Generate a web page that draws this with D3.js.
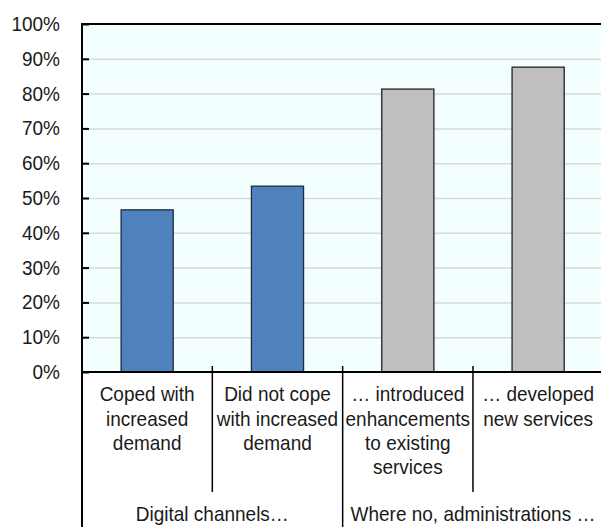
<!DOCTYPE html>
<html>
<head>
<meta charset="utf-8">
<script src="https://cdn.jsdelivr.net/npm/d3@7"></script>
<style>
  html, body { margin: 0; padding: 0; background: #ffffff; }
  svg { display: block; }
  text { font-family: "Liberation Sans", Arial, sans-serif; font-size: 19px; fill: #1a1a1a; }
</style>
</head>
<body>
<svg id="chart" width="601" height="527"></svg>
<script>
// Share of administrations, by digital-channel outcome
const categories = [
  "Coped with increased demand",
  "Did not cope with increased demand",
  "… introduced enhancements to existing services",
  "… developed new services"
];
const categoryLines = [
  ["Coped with", "increased", "demand"],
  ["Did not cope", "with increased", "demand"],
  ["… introduced", "enhancements", "to existing", "services"],
  ["… developed", "new services"]
];
const groups = ["Digital channels…", "Where no, administrations …"];
const groupOf = [0, 0, 1, 1];
const values = [0.466, 0.534, 0.813, 0.876];
const yTicks = [0, 0.1, 0.2, 0.3, 0.4, 0.5, 0.6, 0.7, 0.8, 0.9, 1.0];
const groupFill = ["#4f81bd", "#bfbfbf"];
const groupStroke = ["#1e2c3c", "#222222"];

const svg = d3.select("#chart");
const plot = { left: 82, right: 603.3, top: 24, bottom: 372 };
const lineGap = 24.5;
const textStretch = 1.1; // glyphs are drawn slightly taller than wide

// stretch a text element vertically about its baseline
function stretchAt(sel, xf, yf) {
  sel.attr("transform", (d, i) => {
    const yb = yf(d, i);
    return `translate(0,${yb}) scale(1,${textStretch}) translate(0,${-yb})`;
  });
}

const x = d3.scaleBand()
  .domain(categories)
  .range([plot.left, plot.right])
  .paddingInner(0.6)
  .paddingOuter(0.3);

const y = d3.scaleLinear().domain([0, 1]).range([plot.bottom, plot.top]);

// plot background
svg.append("rect")
  .attr("x", plot.left).attr("y", plot.top)
  .attr("width", plot.right - plot.left).attr("height", plot.bottom - plot.top)
  .attr("fill", "#f3ffff");

// horizontal gridlines
const grid = svg.append("g")
  .attr("transform", `translate(${plot.left},0)`)
  .call(d3.axisLeft(y).tickValues(yTicks.slice(1, -1)).tickSize(-(plot.right - plot.left)).tickFormat(""));
grid.select(".domain").remove();
grid.selectAll("line").attr("stroke", "#d9d9d9").attr("stroke-width", 1.5);

// bars
svg.append("g").selectAll("rect")
  .data(categories)
  .join("rect")
  .attr("x", d => x(d))
  .attr("y", (d, i) => y(values[i]))
  .attr("width", x.bandwidth())
  .attr("height", (d, i) => y(0) - y(values[i]))
  .attr("fill", (d, i) => groupFill[groupOf[i]])
  .attr("stroke", (d, i) => groupStroke[groupOf[i]])
  .attr("stroke-width", 1.3);

// y axis: inward ticks only, labels drawn separately
const yAxis = svg.append("g")
  .attr("transform", `translate(${plot.left},0)`)
  .call(d3.axisLeft(y).tickValues(yTicks).tickSize(-7).tickFormat(""));
yAxis.select(".domain").remove();
yAxis.selectAll(".tick line").attr("stroke", "#000").attr("stroke-width", 2);

const fmt = d3.format(".0%");
svg.append("g").selectAll("text")
  .data(yTicks)
  .join("text")
  .attr("text-anchor", "end")
  .attr("x", 60)
  .attr("y", d => y(d) + 7)
  .text(d => fmt(d))
  .call(stretchAt, null, d => y(d) + 7);

// frame: top border, left axis (runs down through the category area), baseline
svg.append("line")
  .attr("x1", plot.left - 1).attr("x2", plot.right)
  .attr("y1", plot.top).attr("y2", plot.top)
  .attr("stroke", "#000").attr("stroke-width", 2);
svg.append("line")
  .attr("x1", plot.left).attr("x2", plot.left)
  .attr("y1", plot.top - 1).attr("y2", 527)
  .attr("stroke", "#000").attr("stroke-width", 2);
svg.append("line")
  .attr("x1", plot.left).attr("x2", plot.right)
  .attr("y1", plot.bottom).attr("y2", plot.bottom)
  .attr("stroke", "#000").attr("stroke-width", 2);

// category boundaries: within-group dividers stop above the group row
const step = x.step();
const bounds = d3.range(1, categories.length + 1).map(i => plot.left + i * step);
svg.append("g").selectAll("line")
  .data(bounds)
  .join("line")
  .attr("x1", d => d).attr("x2", d => d)
  .attr("y1", plot.bottom - 6)
  .attr("y2", (d, i) => groupOf[i] !== groupOf[i + 1] ? 527 : 492)
  .attr("stroke", "#000").attr("stroke-width", 1.5);

// category labels, one text element per line
const lineData = categories.flatMap((c, i) =>
  categoryLines[i].map((t, j) => ({ cat: c, text: t, yb: 401 + j * lineGap })));
svg.append("g").selectAll("text")
  .data(lineData)
  .join("text")
  .attr("text-anchor", "middle")
  .attr("x", d => x(d.cat) + x.bandwidth() / 2)
  .attr("y", d => d.yb)
  .text(d => d.text)
  .call(stretchAt, null, d => d.yb);

// group labels
svg.append("g").selectAll("text")
  .data(groups)
  .join("text")
  .attr("text-anchor", "middle")
  .attr("x", (g, gi) => {
    const members = categories.filter((c, i) => groupOf[i] === gi);
    const x0 = x(members[0]) - x.paddingOuter() * step;
    const x1 = x(members[members.length - 1]) + x.bandwidth() + x.paddingOuter() * step;
    return (x0 + x1) / 2;
  })
  .attr("y", 521)
  .text(g => g)
  .call(stretchAt, null, () => 521);
</script>
</body>
</html>
